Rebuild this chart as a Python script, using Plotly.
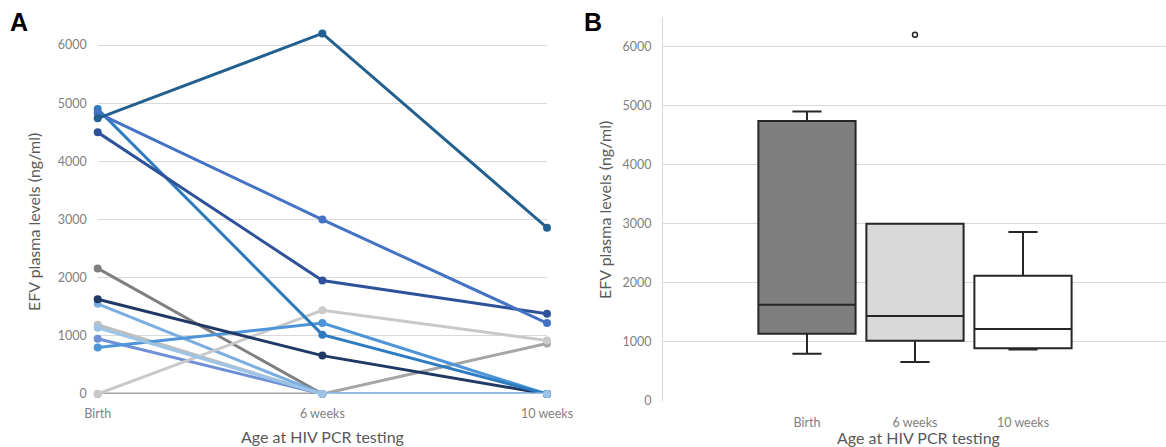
import plotly.graph_objects as go

# ---------------- data ----------------
categories = ["Birth", "6 weeks", "10 weeks"]

# EFV plasma levels (ng/ml) per infant at each time point
p_teal      = [4740, 6200, 2860]
p_royal     = [4830, 3000, 1220]
p_navy      = [4500, 1950, 1380]
p_mid_blue  = [4900, 1020, 0]
p_dark_navy = [1630, 660, 0]
p_lt_blue   = [800, 1220, 0]
p_dk_gray   = [2160, 0, 0]
p_lt_blue2  = [1550, 0, 0]
p_periwink  = [950, 0, 0]
p_lt_gray   = [1190, 0, 0]
p_pale_blue = [1140, 0, 0]
p_lt_gray2  = [0, 1440, 920]
p_md_gray   = [0, 0, 870]

y_ticks = [0, 1000, 2000, 3000, 4000, 5000, 6000]

series = [
    (p_md_gray, "#a5a5a5"),
    (p_dk_gray, "#7f7f7f"),
    (p_lt_gray, "#bfbfbf"),
    (p_periwink, "#6f8fd6"),
    (p_lt_blue2, "#7aaee0"),
    (p_lt_gray2, "#c9c9c9"),
    (p_lt_blue, "#4d95d8"),
    (p_dark_navy, "#203864"),
    (p_mid_blue, "#2d7cc2"),
    (p_navy, "#2e529a"),
    (p_royal, "#4472c4"),
    (p_teal, "#22608f"),
    (p_pale_blue, "#9dc3e6"),
]

box_fills = ["#7f7f7f", "#d9d9d9", "#ffffff"]

# ---------------- figure ----------------
W, H = 1166, 447
fig = go.Figure()

for vals, col in series:
    fig.add_trace(go.Scatter(
        x=categories, y=vals, mode="lines+markers",
        line=dict(color=col, width=3),
        marker=dict(color=col, size=8),
        cliponaxis=False, showlegend=False,
        xaxis="x", yaxis="y",
    ))

all_series = [s for s, _ in series]
for i, cat in enumerate(categories):
    vals = [s[i] for s in all_series if s[i] > 0]
    fig.add_trace(go.Box(
        y=vals, x=[cat] * len(vals), name=cat,
        fillcolor=box_fills[i],
        line=dict(color="#262626", width=2),
        marker=dict(symbol="circle-open", size=5, color="#262626",
                    line=dict(width=1.5)),
        boxpoints="outliers", jitter=0, pointpos=0,
        quartilemethod="exclusive", width=0.9, whiskerwidth=0.3,
        showlegend=False, xaxis="x2", yaxis="y2",
    ))

grid = "#d9d9d9"
tickfont = dict(family="Lato", size=12.5, color="#7f7f7f")
titlefont = dict(family="Lato", size=16, color="#595959")

def px(x):
    return x / W

def py(y):
    return 1 - y / H

def ann(text, x, y, font, angle=0):
    return dict(text=text, x=px(x), y=py(y), xref="paper", yref="paper",
                xanchor="center", yanchor="middle", showarrow=False,
                textangle=angle, font=font)

label_font = dict(family="Liberation Sans", size=25, color="black")

fig.update_layout(
    width=W, height=H,
    margin=dict(l=0, r=0, t=0, b=0, autoexpand=False),
    paper_bgcolor="white", plot_bgcolor="white",
    boxmode="overlay",
    xaxis=dict(domain=[px(97.7), px(547)], type="category",
               categoryorder="array", categoryarray=categories,
               range=[0, 2], showgrid=False, zeroline=False,
               showline=False, ticks="", tickfont=tickfont,
               ticklabelstandoff=10, automargin=False),
    yaxis=dict(domain=[py(394), py(16)], range=[0, 6500],
               tickvals=y_ticks, showgrid=True, gridcolor=grid,
               gridwidth=1, zeroline=False, showline=False, ticks="",
               tickfont=tickfont, ticklabelstandoff=10, automargin=False),
    xaxis2=dict(domain=[px(663), 1.0], type="category",
                categoryorder="array", categoryarray=categories,
                range=[-1.333, 3.324], showgrid=False, zeroline=False,
                showline=False, ticks="", tickfont=tickfont,
                ticklabelstandoff=12, anchor="y2", automargin=False),
    yaxis2=dict(domain=[py(401), py(17)], range=[0, 6500],
                tickvals=y_ticks, showgrid=True, gridcolor=grid,
                gridwidth=1, zeroline=False, showline=True,
                linecolor=grid, linewidth=1, ticks="",
                tickfont=tickfont, ticklabelstandoff=8, anchor="x2",
                automargin=False),
    annotations=[
        ann("<b>A</b>", 19, 22, label_font),
        ann("<b>B</b>", 593, 22, label_font),
        ann("EFV plasma levels (ng/ml)", 34, 222, titlefont, -90),
        ann("EFV plasma levels (ng/ml)", 604, 210, titlefont, -90),
        ann("Age at HIV PCR testing", 322, 436, titlefont),
        ann("Age at HIV PCR testing", 918, 437, titlefont),
    ],
)

fig.write_html("out.html")
